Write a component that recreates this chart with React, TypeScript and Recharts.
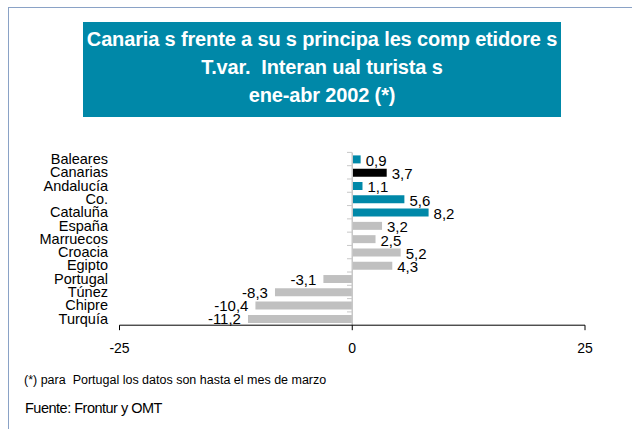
import { BarChart, Bar, XAxis, YAxis, Cell, LabelList, ReferenceLine } from 'recharts';

const categories = ['Baleares', 'Canarias', 'Andalucía', 'Co.', 'Cataluña', 'España', 'Marruecos', 'Croacia', 'Egipto', 'Portugal', 'Túnez', 'Chipre', 'Turquía'];
const values = [0.9, 3.7, 1.1, 5.6, 8.2, 3.2, 2.5, 5.2, 4.3, -3.1, -8.3, -10.4, -11.2];
const groups = ['es', 'can', 'es', 'es', 'es', 'comp', 'comp', 'comp', 'comp', 'comp', 'comp', 'comp', 'comp'];
const xTicks = [-25, 0, 25];

const colors: Record<string, string> = { es: '#0088A8', can: '#000000', comp: '#C0C0C0' };

const data = categories.map((name, i) => ({ name, value: values[i], group: groups[i] }));

const font = 'Liberation Sans, Arial, Helvetica, sans-serif';

const CategoryTick = (props: any) => {
  const { y, payload } = props;
  const band = 172.8 / categories.length;
  return (
    <g>
      <text x={108} y={y} dy={5} textAnchor="end" fontSize={14.5} fill="#000" fontFamily={font}>
        {payload.value}
      </text>
      <line x1={347} x2={352} y1={y - band / 2} y2={y - band / 2} stroke="#C8C8C8" strokeWidth={1} />
    </g>
  );
};

const ValueLabel = (props: any) => {
  const { x, y, width, height, value } = props;
  const left = Math.min(x, x + width);
  const right = Math.max(x, x + width);
  const cy = y + height / 2;
  const txt = String(value).replace('.', ',');
  if (value >= 0) {
    return (
      <text x={right + 5} y={cy} dy={6.5} fontSize={15} fill="#000" fontFamily={font}>{txt}</text>
    );
  }
  return (
    <text x={left - 7} y={cy} dy={5.5} textAnchor="end" fontSize={15} fill="#000" fontFamily={font}>{txt}</text>
  );
};

export default function App() {
  return (
    <div style={{ position: 'absolute', left: 0, top: 0, width: 632, height: 429, overflow: 'hidden', background: '#fff', fontFamily: font }}>
      <div style={{ position: 'absolute', left: 8, top: 7, width: 700, height: 500, borderTop: '1.5px solid #8AA2C6', borderLeft: '1.5px solid #8AA2C6' }} />
      <div style={{
        position: 'absolute', left: 83, top: 22, width: 478, height: 89, paddingBottom: 6, background: '#0088A8',
        color: '#fff', fontWeight: 'bold', fontSize: 20, letterSpacing: -0.15, lineHeight: '28px',
        display: 'flex', flexDirection: 'column', alignItems: 'center', justifyContent: 'center', whiteSpace: 'pre',
      }}>
        <div>Canaria s frente a su s principa les comp etidore s</div>
        <div>T.var.  Interan ual turista s</div>
        <div>ene-abr 2002 (*)</div>
      </div>
      <div style={{ position: 'absolute', left: 0, top: 0 }}>
        <BarChart
          width={632}
          height={370}
          data={data}
          layout="vertical"
          margin={{ top: 152.4, right: 47, bottom: 14.8, left: 0 }}
          barSize={8}
        >
          <XAxis
            type="number"
            domain={[-25, 25]}
            ticks={xTicks}
            height={30}
            axisLine={{ stroke: '#000' }}
            tickLine={{ stroke: '#000' }}
            tickSize={5}
            tickMargin={13}
            tick={{ fontSize: 14, fill: '#000', fontFamily: font }}
          />
          <YAxis
            type="category"
            dataKey="name"
            width={119.5}
            axisLine={false}
            tickLine={false}
            tick={<CategoryTick />}
            interval={0}
          />
          <ReferenceLine x={0} stroke="#C8C8C8" strokeWidth={1.5} />
          <Bar dataKey="value" isAnimationActive={false}>
            {data.map((d, i) => (
              <Cell key={i} fill={colors[d.group]} />
            ))}
            <LabelList dataKey="value" content={<ValueLabel />} />
          </Bar>
        </BarChart>
      </div>
      <div style={{ position: 'absolute', left: 24, top: 373, fontSize: 12.5, whiteSpace: 'pre', color: '#000' }}>
        (*) para  Portugal los datos son hasta el mes de marzo
      </div>
      <div style={{ position: 'absolute', left: 25, top: 400, fontSize: 14.5, letterSpacing: -0.5, color: '#000' }}>
        Fuente: Frontur y OMT
      </div>
    </div>
  );
}
